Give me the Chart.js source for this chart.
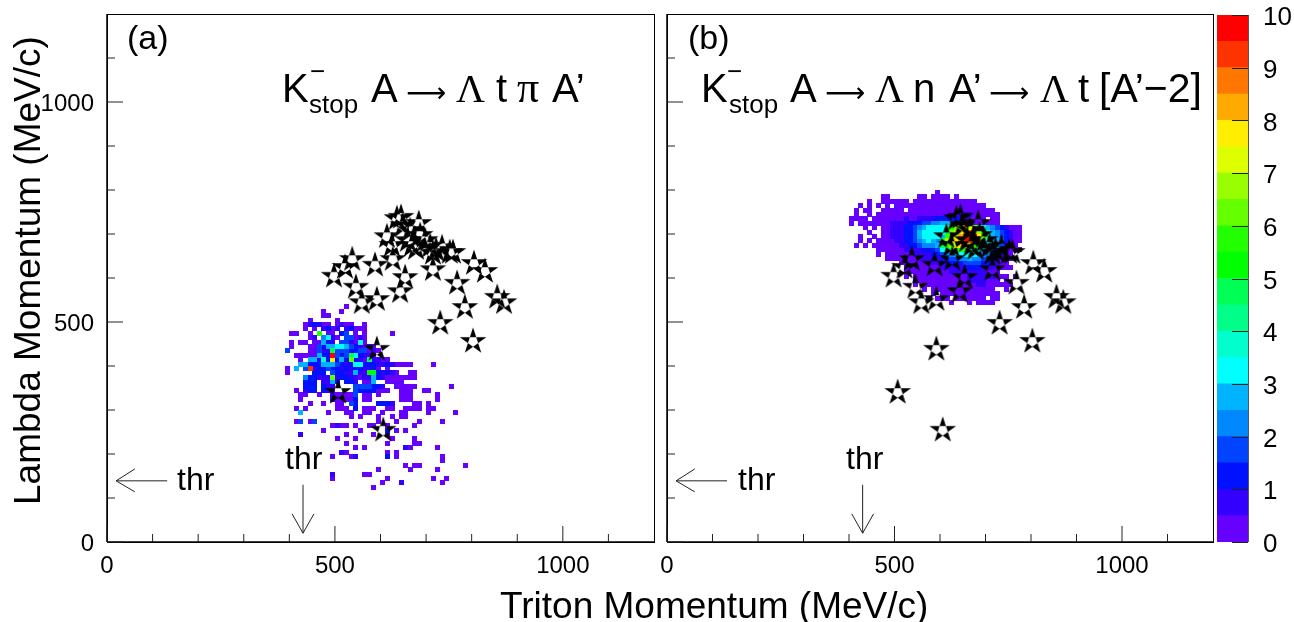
<!DOCTYPE html>
<html>
<head>
<meta charset="utf-8">
<title>Lambda vs triton momentum</title>
<script src="https://cdn.jsdelivr.net/npm/chart.js@4"></script>
<style>
    html, body { margin: 0; padding: 0; background: #ffffff; }
    canvas { position: absolute; left: 0; top: 0; }
</style>
</head>
<body>
<canvas id="panelA" width="1294" height="622"></canvas>
<canvas id="panelB" width="1294" height="622"></canvas>
<canvas id="colorBar" width="1294" height="622"></canvas>
<script>
// ===============================
// Data
// ===============================

const levelColors = [
    "#6600ff", "#3300ff", "#0011ff", "#0044ff", "#0088ff",
    "#00b4ff", "#00ffff", "#00ffcc", "#00ff88", "#00ff55",
    "#00ff00", "#22ff00", "#66ff00", "#99ff00", "#ddff00",
    "#ffee00", "#ffaa00", "#ff7700", "#ff3300", "#ff0000"
];
const levelCodes = "123456789abcdefghijk";

const xTickValues = [0, 500, 1000];
const yTickValues = [0, 500, 1000];
const minorValues = [100, 200, 300, 400, 600, 700, 800, 900, 1100];
const barTickValues = [0, 1, 2, 3, 4, 5, 6, 7, 8, 9, 10];

// Measured events, triton momentum and lambda momentum (MeV/c)
const starTriton = [498, 522, 538, 588, 546, 559, 592, 643, 654, 627, 614, 636, 645, 684, 665, 649, 678, 660, 698, 715, 715, 735, 752, 759, 722, 805, 829, 768, 785, 856, 871, 731, 803, 592, 507, 606, 687, 709, 669, 625];
const starLambda = [605, 625, 643, 630, 580, 545, 552, 570, 602, 643, 695, 736, 739, 725, 709, 720, 668, 686, 686, 620, 657, 670, 659, 659, 664, 634, 616, 589, 534, 557, 545, 498, 457, 439, 341, 255, 698, 673, 675, 675];

// Histogram (a): 10 MeV/c bins, first column is bin 39, first row is bin 53
const firstColA = 39;
const firstRowA = 53;
const rowsA = [
    ".............1",
    "........1...1",
    "........11",
    ".....1.....1",
    "....123211.1211..1",
    "....1.1.2312.23111",
    ".11..1.c.11.34.1.1.....1",
    ".....12.5721.44121",
    ".1.11.11632.442171",
    ".1...114366776432121",
    "4....11422a4443344121",
    "..11111633k434a73221",
    "...1.66283g363d32192211",
    "...6633366643237733322321111....1",
    "1.6.4j233433232332231.1",
    "1.....333.43322622bb32321..11",
    "....533222d233221226321111111",
    "....333.2263.332.116..1111",
    "....333.322....4444332..11111.......1",
    "..1.233.322....43333111..111..11",
    "...11..1..211114.11.1....111.....1",
    "...1......211113.11......111.....1",
    ".....1..1..11.43....3332....11.1",
    "..1.1......111.3.111..11..1111.11",
    "...6.....1...11..11..1...11....1.....1",
    "..............1.1...1..1.11",
    "..14.14.............1...1....1....1",
    "..........1211.1..11..1.....1",
    "........1.......1.....3.1.1",
    "...2.........1.....1..1",
    "...........1...1.......1....1",
    ".............1........1.....11",
    "...............1.1........21.....1",
    "............21........1.1",
    "..........1...12......3.1.........1",
    "..................................1",
    "..........................1.11.........1",
    "....................1......1.....1",
    "..........2......11",
    "..........1...........1.........1..1",
    ".....................1...2........1",
    "...................1"
];

// Histogram (b): first column is bin 40, first row is bin 79
const firstColB = 40;
const firstRowB = 79;
const rowsB = [
    "...................1",
    ".......11......11.1111.1",
    "....1..111111.11111111111111",
    "..1.1.1.1.11111111111111111111",
    ".1.11..11111.1111111111111111111",
    ".1..1.111111111111111111222111111",
    "1111.1111111211222233333211111.11",
    "1.1111111222233344556654321111111",
    "...1.1.112223345677779cdfgfdb865432111",
    "....1..11222334677777adefhiheb86543211",
    "..1..1.11222334677776cdfhjkkgd96543211",
    "..1.1.11112233456765aefghkjhgc86653211",
    ".1.1.111111223345556acdfgfdca86654211",
    "......1111112222333479abcca97665321111",
    "......1.1111112222334556778765543211",
    "........1111111222223344556554432111",
    "...........111111122223334444333211",
    "............111111112222223332221111",
    "............111111111122222222111",
    "............1.111111111111222222111.1",
    "..............1111111111112222111.1",
    "..............1.11111111111122111111",
    "................1.11111111111111..1",
    "..................1.1111111111111",
    ".................1.111.1111111.11",
    "......................1...1.1111"
];

// Threshold arrows, MeV/c
const thrTritonArrow = [430, 130, 20, 64, 406, 454];
const thrLambdaArrow = [139, 132, 20, 61, 166, 114];

// ===============================
// Text
// ===============================

const SANS = "'Liberation Sans', Arial, sans-serif";
const SERIF = "'Liberation Serif', serif";
const ARROW = "'DejaVu Sans', sans-serif";

const textA = [
    ["(a)", 127, 49, 34, SANS],
    ["K", 282, 102, 40, SANS],
    ["stop", 309, 113, 26, SANS],
    ["\u2212", 310, 80, 26, SANS],
    ["A", 371, 102, 40, SANS],
    ["\u27f6", 406, 102, 28, ARROW],
    ["\u039b", 456, 102, 40, SERIF],
    ["t", 496, 102, 40, SANS],
    ["\u03c0", 517, 102, 44, SERIF],
    ["A\u2019", 552, 102, 40, SANS],
    ["thr", 177, 490, 32, SANS],
    ["thr", 285, 469, 32, SANS]
];

const textB = [
    ["(b)", 688, 49, 34, SANS],
    ["K", 701, 102, 40, SANS],
    ["stop", 729, 113, 26, SANS],
    ["\u2212", 727, 80, 26, SANS],
    ["A", 790, 102, 40, SANS],
    ["\u27f6", 825, 102, 28, ARROW],
    ["\u039b", 875, 102, 40, SERIF],
    ["n", 913, 102, 40, SANS],
    ["A\u2019", 949, 102, 40, SANS],
    ["\u27f6", 989, 102, 28, ARROW],
    ["\u039b", 1040, 102, 40, SERIF],
    ["t", 1078, 102, 40, SANS],
    ["[A\u2019\u22122]", 1099, 102, 41, SANS],
    ["thr", 738, 490, 32, SANS],
    ["thr", 846, 469, 32, SANS]
];

// ===============================
// Marker sprites
// ===============================

function makeCellSprite(color){
    const sprite = document.createElement("canvas");
    sprite.width = 5;
    sprite.height = 5;
    const c = sprite.getContext("2d");
    c.fillStyle = color;
    c.fillRect(0, 0, 5, 5);
    return sprite;
}

// Pentagram with even-odd fill, so the middle stays see-through
function makeStarSprite(){
    const sprite = document.createElement("canvas");
    sprite.width = 30;
    sprite.height = 30;
    const c = sprite.getContext("2d");
    c.beginPath();
    for(let i = 0; i < 5; i++){
        const a = -Math.PI / 2 + i * 4 * Math.PI / 5;
        const px = 15 + 14 * Math.cos(a);
        const py = 15.5 + 14 * Math.sin(a);
        if(i === 0){ c.moveTo(px, py); } else { c.lineTo(px, py); }
    }
    c.closePath();
    c.fillStyle = "#000000";
    c.fill("evenodd");
    return sprite;
}

const starSprite = makeStarSprite();

// ===============================
// Datasets
// ===============================

function buildDatasets(rows, firstCol, firstRow){
    const perLevel = levelColors.map(function(){ return []; });

    rows.forEach(function(row, r){
        for(let i = 0; i < row.length; i++){
            const level = levelCodes.indexOf(row[i]);
            if(level >= 0){
                perLevel[level].push({
                    x: (firstCol + i) * 10 + 5,
                    y: (firstRow - r) * 10 + 5
                });
            }
        }
    });

    const datasets = perLevel.map(function(points, level){
        return {
            label: "level " + level,
            data: points,
            pointStyle: makeCellSprite(levelColors[level]),
            pointRadius: 3,
            order: 100 - level,
            isCells: true
        };
    });

    datasets.push({
        label: "events",
        data: starTriton.map(function(t, i){ return { x: t, y: starLambda[i] }; }),
        pointStyle: starSprite,
        pointRadius: 3,
        order: 0
    });

    return datasets;
}

// ===============================
// Plugins
// ===============================

// Keep the cells on whole pixels so they stay crisp
const snapCells = {
    id: "snapCells",
    afterDatasetsUpdate(chart){
        chart.data.datasets.forEach(function(ds, i){
            if(!ds.isCells){ return; }
            chart.getDatasetMeta(i).data.forEach(function(p){
                p.x = Math.round(p.x - 2.28) + 2.5;
                p.y = Math.round(p.y - 2.2) + 2.5;
            });
        });
    }
};

function line(ctx, x1, y1, x2, y2){
    ctx.beginPath();
    ctx.moveTo(x1, y1);
    ctx.lineTo(x2, y2);
    ctx.stroke();
}

function drawText(ctx, runs){
    ctx.fillStyle = "#000000";
    ctx.textBaseline = "alphabetic";
    ctx.textAlign = "left";
    runs.forEach(function(run){
        ctx.font = run[3] + "px " + run[4];
        ctx.fillText(run[0], run[1], run[2]);
    });
}

// Frame, inward ticks, threshold arrows and text of one panel
function panelPlugin(runs, extra){
    return {
        id: "panelExtras",
        afterDatasetsDraw(chart){
            const ctx = chart.ctx;
            const area = chart.chartArea;
            const sx = chart.scales.x;
            const sy = chart.scales.y;

            ctx.save();
            ctx.strokeStyle = "#000000";
            ctx.lineWidth = 1;
            ctx.strokeRect(area.left + 0.5, area.top + 0.5, area.width, area.height);
            ctx.lineWidth = 1.5;
            line(ctx, area.left, area.top, area.left, area.bottom);
            line(ctx, area.left, area.bottom, area.right, area.bottom);

            ctx.lineWidth = 1;
            ctx.strokeStyle = "#222222";
            minorValues.forEach(function(v){
                line(ctx, sx.getPixelForValue(v), area.bottom, sx.getPixelForValue(v), area.bottom - 8);
                line(ctx, area.left, sy.getPixelForValue(v), area.left + 8, sy.getPixelForValue(v));
            });
            xTickValues.forEach(function(v){
                line(ctx, sx.getPixelForValue(v), area.bottom, sx.getPixelForValue(v), area.bottom - 16);
            });
            yTickValues.forEach(function(v){
                line(ctx, area.left, sy.getPixelForValue(v), area.left + 16, sy.getPixelForValue(v));
            });

            // thr arrow on the lambda axis
            const a = thrLambdaArrow;
            const ay = sy.getPixelForValue(a[0]);
            const tip = sx.getPixelForValue(a[2]);
            line(ctx, tip, ay, sx.getPixelForValue(a[1]), ay);
            line(ctx, tip, ay, sx.getPixelForValue(a[3]), sy.getPixelForValue(a[4]));
            line(ctx, tip, ay, sx.getPixelForValue(a[3]), sy.getPixelForValue(a[5]));

            // thr arrow on the triton axis
            const b = thrTritonArrow;
            const bx = sx.getPixelForValue(b[0]);
            const bTip = sy.getPixelForValue(b[2]);
            line(ctx, bx, sy.getPixelForValue(b[1]), bx, bTip);
            line(ctx, bx, bTip, sx.getPixelForValue(b[4]), sy.getPixelForValue(b[3]));
            line(ctx, bx, bTip, sx.getPixelForValue(b[5]), sy.getPixelForValue(b[3]));

            drawText(ctx, runs);
            if(extra){ extra(ctx); }
            ctx.restore();
        }
    };
}

// Axis titles go on panel (a) only, the x title is shared by both panels
function drawAxisTitles(ctx){
    ctx.font = "37px " + SANS;
    ctx.fillStyle = "#000000";
    ctx.fillText("Triton Momentum (MeV/c)", 500, 618);
    ctx.save();
    ctx.translate(40, 505);
    ctx.rotate(-Math.PI / 2);
    ctx.fillText("Lambda Momentum (MeV/c)", 0, 0);
    ctx.restore();
}

function plainLabel(value){
    return String(value);
}

// ===============================
// Panels
// ===============================

function makePanel(id, rows, firstCol, firstRow, leftEdge, rightEdge, showY, runs, extra){
    new Chart(document.getElementById(id), {
        type: "scatter",
        data: { datasets: buildDatasets(rows, firstCol, firstRow) },
        plugins: [snapCells, panelPlugin(runs, extra)],
        options: {
            responsive: false,
            animation: false,
            events: [],
            layout: { padding: { left: 0, right: 1294 - rightEdge, top: 14, bottom: 0 } },
            plugins: { legend: { display: false }, tooltip: { enabled: false } },
            scales: {
                x: {
                    type: "linear",
                    min: 0,
                    max: 1200,
                    grid: { display: false },
                    border: { display: false },
                    afterFit(scale){
                        scale.height = 80;
                        scale.paddingLeft = 0;
                        scale.paddingRight = 0;
                    },
                    afterBuildTicks(scale){
                        scale.ticks = xTickValues.map(function(v){ return { value: v }; });
                    },
                    ticks: {
                        callback: plainLabel,
                        autoSkip: false,
                        maxRotation: 0,
                        padding: 2,
                        color: "#000000",
                        font: { family: SANS, size: 24 }
                    }
                },
                y: {
                    type: "linear",
                    min: 0,
                    max: 1200,
                    grid: { display: false },
                    border: { display: false },
                    afterFit(scale){
                        scale.width = leftEdge;
                        scale.paddingTop = 0;
                        scale.paddingBottom = 0;
                    },
                    afterBuildTicks(scale){
                        scale.ticks = yTickValues.map(function(v){ return { value: v }; });
                    },
                    ticks: {
                        callback: plainLabel,
                        display: showY,
                        autoSkip: false,
                        padding: 5,
                        labelOffset: 2,
                        color: "#000000",
                        font: { family: SANS, size: 24 }
                    }
                }
            }
        }
    });
}

makePanel("panelA", rowsA, firstColA, firstRowA, 107, 654, true, textA, drawAxisTitles);
makePanel("panelB", rowsB, firstColB, firstRowB, 667, 1213, false, textB, null);

// ===============================
// Colour bar
// ===============================

new Chart(document.getElementById("colorBar"), {
    type: "bar",
    data: {
        labels: [""],
        datasets: levelColors.map(function(color){
            return {
                data: [0.5],
                backgroundColor: color,
                borderWidth: 0,
                barPercentage: 1,
                categoryPercentage: 1
            };
        })
    },
    plugins: [{
        id: "barTicks",
        afterDatasetsDraw(chart){
            const ctx = chart.ctx;
            const area = chart.chartArea;
            ctx.save();
            ctx.strokeStyle = "#222222";
            ctx.lineWidth = 1;
            barTickValues.forEach(function(v){
                const py = Math.round(chart.scales.y.getPixelForValue(v)) + 0.5;
                line(ctx, area.right - 16, py, area.right, py);
            });
            ctx.strokeStyle = "#555555";
            line(ctx, area.right + 0.5, area.top, area.right + 0.5, area.bottom);
            ctx.restore();
        }
    }],
    options: {
        responsive: false,
        animation: false,
        events: [],
        layout: { padding: { left: 1217, right: 0, top: 15, bottom: 80 } },
        plugins: { legend: { display: false }, tooltip: { enabled: false } },
        scales: {
            x: { stacked: true, display: false },
            y: {
                stacked: true,
                position: "right",
                min: 0,
                max: 10,
                grid: { display: false },
                border: { display: false },
                afterFit(scale){
                    scale.width = 46;
                    scale.paddingTop = 0;
                    scale.paddingBottom = 0;
                },
                afterBuildTicks(scale){
                    scale.ticks = barTickValues.map(function(v){ return { value: v }; });
                },
                ticks: {
                    callback: plainLabel,
                    autoSkip: false,
                    padding: 7,
                    labelOffset: 3,
                    color: "#000000",
                    font: { family: SANS, size: 26 }
                }
            }
        }
    }
});
</script>
</body>
</html>
